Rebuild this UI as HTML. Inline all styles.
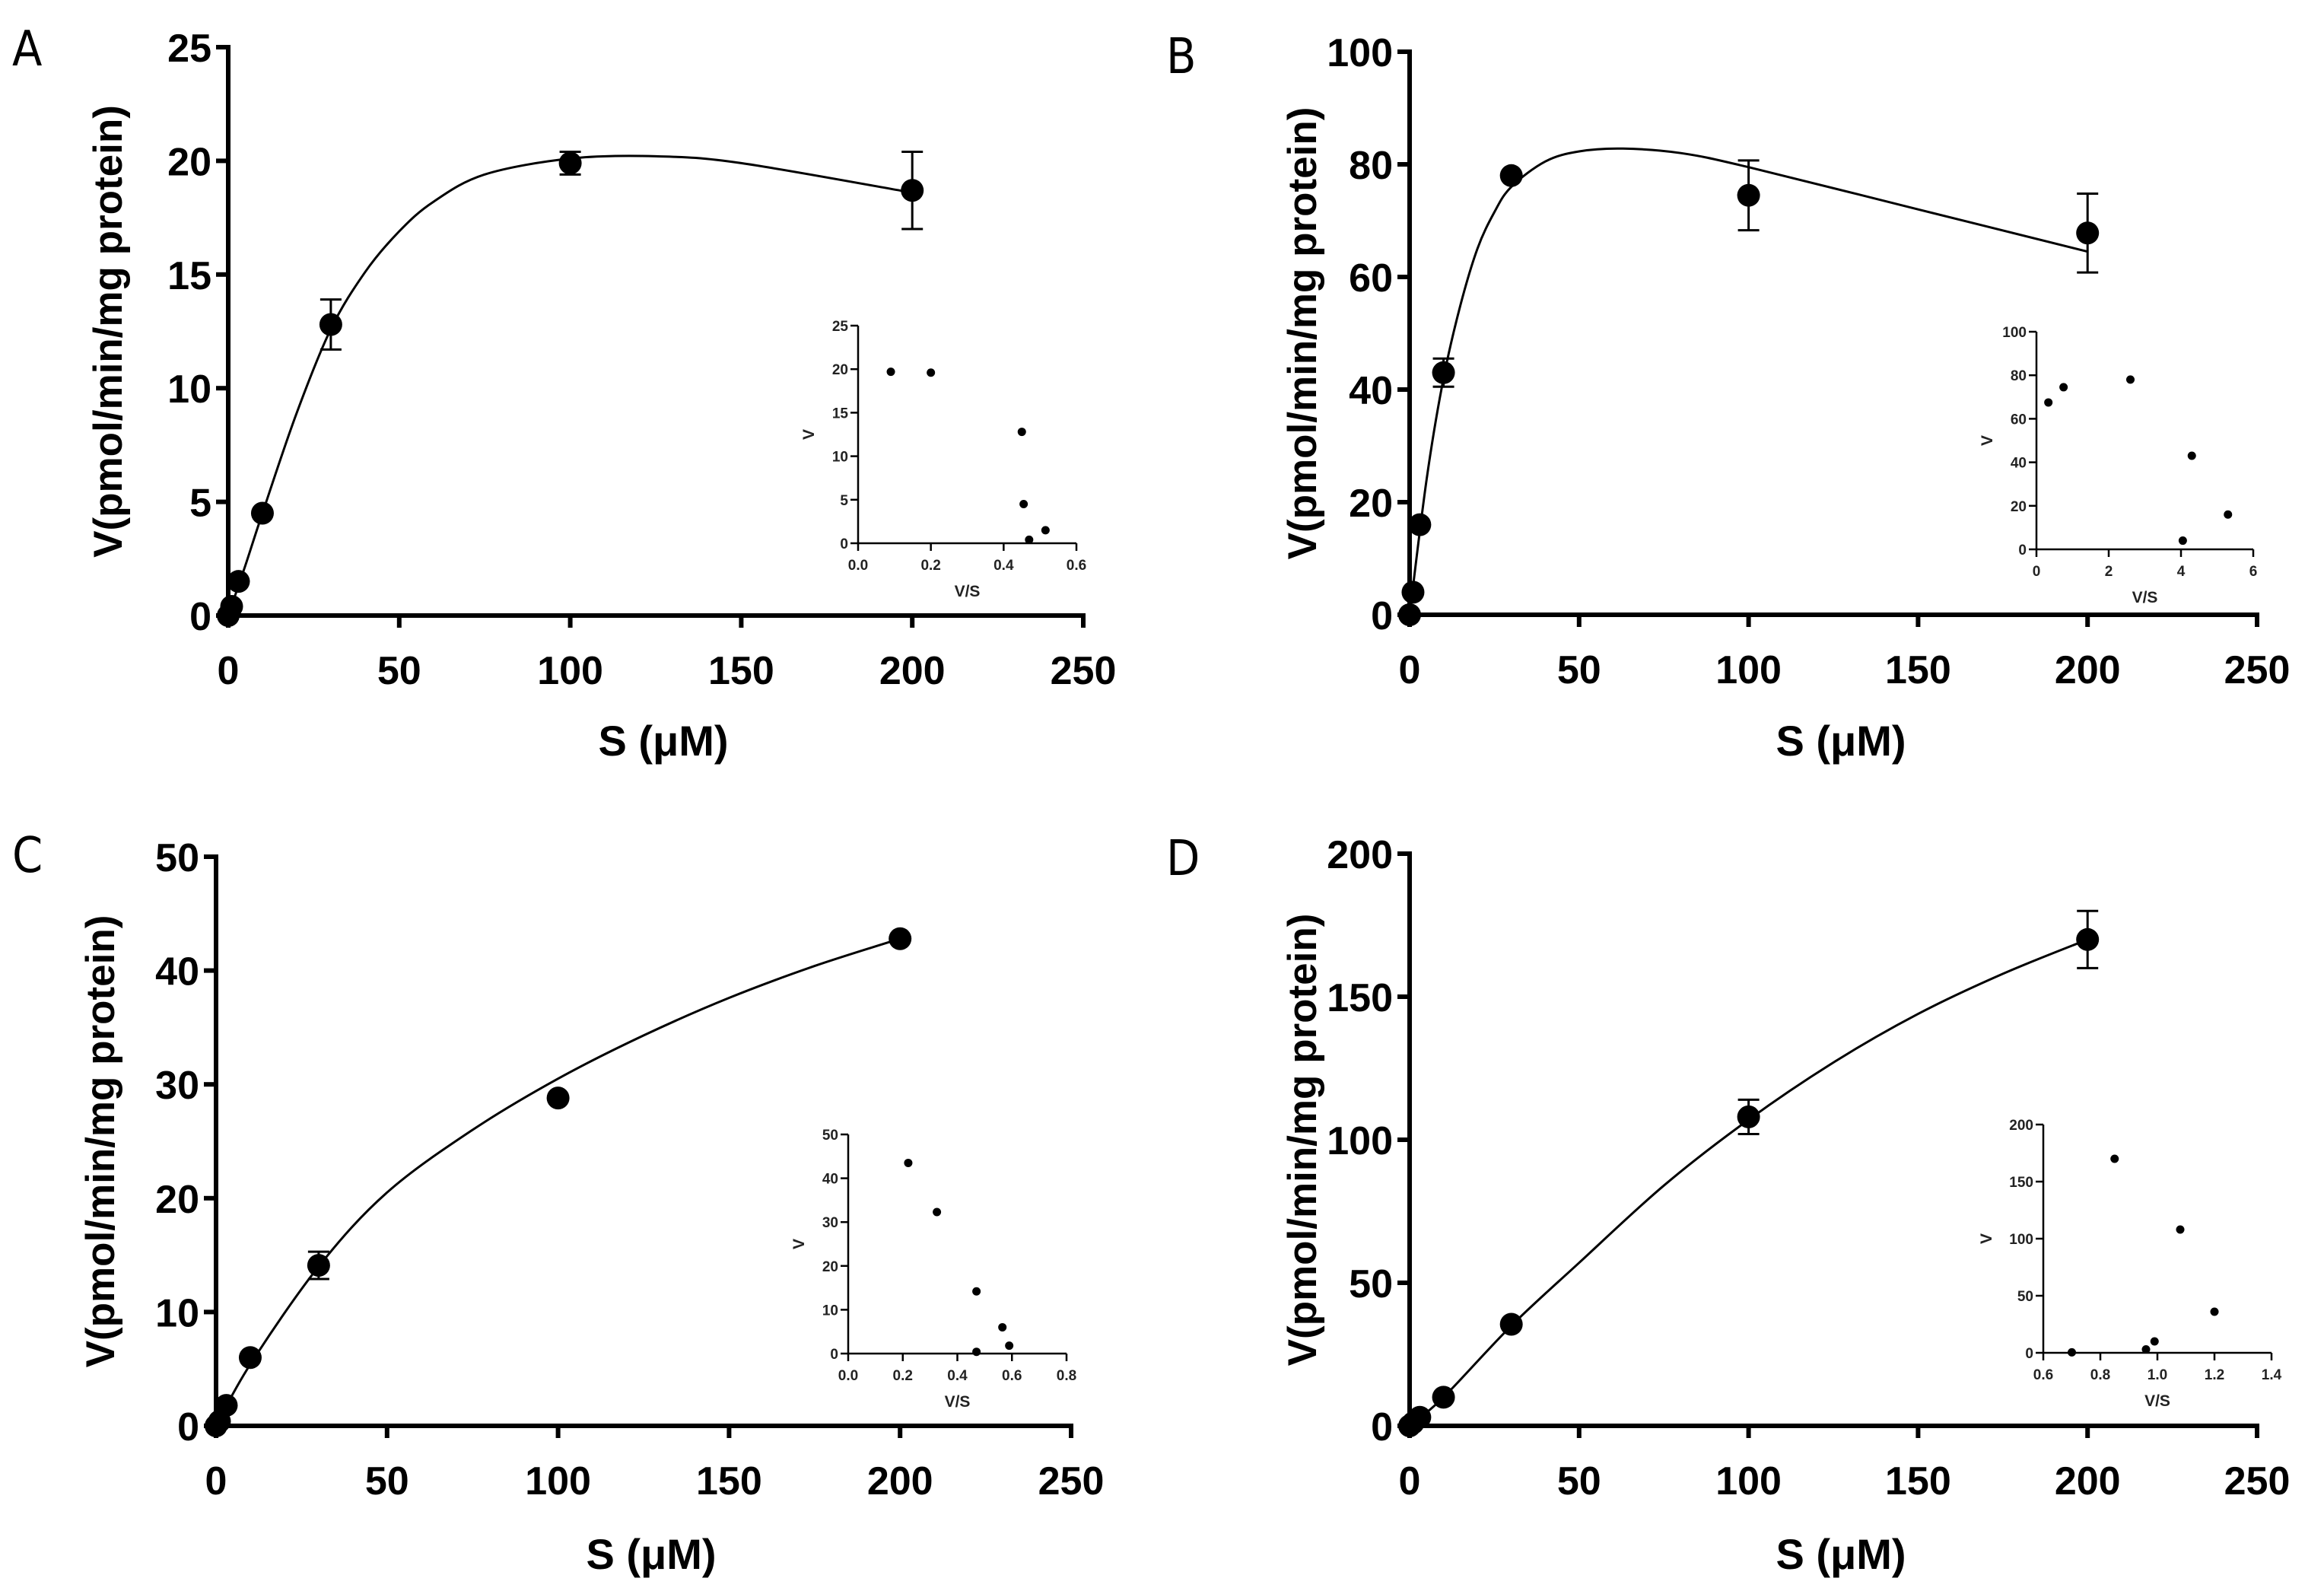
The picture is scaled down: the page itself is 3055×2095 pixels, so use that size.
<!DOCTYPE html>
<html><head><meta charset="utf-8"><style>
html,body{margin:0;padding:0;background:#fff;}
svg{display:block;font-family:"Liberation Sans",Arial,sans-serif;}
</style></head><body>
<svg id="fig" width="3055" height="2095" viewBox="0 0 3055 2095" xmlns="http://www.w3.org/2000/svg"></svg>
<script>
// Panel A data
const sA = [0, 1, 3, 10, 30, 100, 200];
const vA = [0, 0.4, 1.5, 4.5, 12.8, 19.9, 18.7];
const eA = [0, 0, 0, 0, 1.1, 0.5, 1.7];
const fitSA = [0, 5, 10, 20, 30, 40, 50, 60, 75, 100, 125, 150, 200];
const fitVA = [0, 2.2, 4.5, 8.9, 12.6, 15.1, 16.9, 18.2, 19.4, 20.1, 20.2, 19.9, 18.6];
const insXA = [0.09, 0.2, 0.45, 0.455, 0.515, 0.47];
const insYA = [19.7, 19.6, 12.8, 4.5, 1.5, 0.4];
// Panel B data
const sB = [0, 1, 3, 10, 30, 100, 200];
const vB = [0, 4, 16, 43, 78, 74.5, 67.8];
const eB = [0, 0, 0, 2.5, 0, 6.2, 7];
const fitSB = [0, 5, 10, 15, 20, 25, 30, 40, 50, 63, 80, 100, 150, 200];
const fitVB = [0, 24, 42, 55, 65, 71.5, 76, 80.5, 82.3, 82.8, 82, 79.5, 72, 64.5];
const insXB = [0.33, 0.75, 2.6, 4.3, 4.05, 5.3];
const insYB = [67.5, 74.5, 78, 43, 4, 16];
// Panel C data
const sC = [0, 1, 3, 10, 30, 100, 200];
const vC = [0, 0.4, 1.8, 6, 14.1, 28.8, 42.8];
const eC = [0, 0, 0, 0, 1.2, 0, 0];
const fitSC = [0, 10, 30, 50, 75, 100, 125, 150, 175, 200];
const fitVC = [0, 5.4, 14, 20.5, 26, 30.5, 34.3, 37.6, 40.4, 42.8];
const insXC = [0.22, 0.325, 0.47, 0.565, 0.59, 0.47];
const insYC = [43.5, 32.3, 14.2, 6, 1.8, 0.4];
// Panel D data
const sD = [0, 1, 3, 10, 30, 100, 200];
const vD = [0, 1, 3, 10, 35.5, 108, 170];
const eD = [0, 0, 0, 0, 0, 6, 10];
const fitSD = [0, 10, 30, 50, 75, 100, 125, 150, 175, 200];
const fitVD = [0, 10, 35, 57, 84, 107, 127, 144, 158, 170];
const insXD = [0.7, 0.85, 0.96, 0.99, 1.08, 1.2];
const insYD = [0.4, 170, 3, 10, 108, 36];
// tick labels
const xTicksMain = [0, 50, 100, 150, 200, 250];
const yTicksA = [0, 5, 10, 15, 20, 25];
const yTicksB = [0, 20, 40, 60, 80, 100];
const yTicksC = [0, 10, 20, 30, 40, 50];
const yTicksD = [0, 50, 100, 150, 200];
const insXTA = [0, 0.2, 0.4, 0.6];
const insXTB = [0, 2, 4, 6];
const insXTC = [0, 0.2, 0.4, 0.6, 0.8];
const insXTD = [0.6, 0.8, 1.0, 1.2, 1.4];

const NS = "http://www.w3.org/2000/svg";
const svg = document.getElementById('fig');
function mk(tag, attrs, parent, txt){
  const e = document.createElementNS(NS, tag);
  for (const k in attrs) e.setAttribute(k, attrs[k]);
  if (txt !== undefined) e.textContent = txt;
  (parent || svg).appendChild(e);
  return e;
}
function fmt(v, dec){ return dec ? v.toFixed(dec) : String(v); }

function panel(cfg){
  const g = mk('g', {});
  
  
  const X = v => cfg.x0 + (v - 0) / 250 * (cfg.x1 - cfg.x0);
  const Y = v => cfg.y0 - v / cfg.ymax * (cfg.y0 - cfg.y1);
  const L = mk('text', {x: cfg.lx, y: cfg.ly, 'font-size': 64, fill: '#000', 'font-family': '"DejaVu Sans Condensed","Liberation Sans",sans-serif'}, g, cfg.id);
  
  
  const ax = mk('g', {stroke: '#000', 'stroke-width': 6, fill: 'none'}, g);
  
  
  mk('line', {x1: cfg.x0, y1: cfg.y0 + 3, x2: cfg.x0, y2: Y(cfg.ymax) - 3}, ax);
  mk('line', {x1: cfg.x0 - 3, y1: cfg.y0, x2: X(250) + 3, y2: cfg.y0}, ax);
  cfg.yt.forEach(t => {
    mk('line', {x1: cfg.x0 - 16, y1: Y(t), x2: cfg.x0, y2: Y(t)}, ax);
    const tx = mk('text', {x: cfg.x0 - 22, y: Y(t) + 19, 'font-size': 52, 'font-weight': 'bold', 'text-anchor': 'end', fill: '#000', stroke: 'none'}, g, fmt(t));
    
    
  });
  xTicksMain.forEach(t => {
    mk('line', {x1: X(t), y1: cfg.y0, x2: X(t), y2: cfg.y0 + 16}, ax);
    const tx = mk('text', {x: X(t), y: cfg.y0 + 90, 'font-size': 52, 'font-weight': 'bold', 'text-anchor': 'middle', fill: '#000'}, g, fmt(t));
    
    
  });
  const yt = mk('text', {x: 0, y: 0, 'font-size': 53, 'font-weight': 'bold', 'text-anchor': 'middle', fill: '#000', transform: 'translate(' + cfg.ytx + ',' + ((cfg.y0 + Y(cfg.ymax)) / 2) + ') rotate(-90)'}, g, 'V(pmol/min/mg protein)');
  
  
  const xt = mk('text', {x: (cfg.x0 + X(250)) / 2 + 10, y: cfg.xty, 'font-size': 56, 'font-weight': 'bold', 'text-anchor': 'middle', fill: '#000'}, g, 'S (μM)');
  
  
  const pts = cfg.fs.map((s, i) => [X(s), Y(cfg.fv[i])]);
  let d = 'M' + pts[0][0] + ',' + pts[0][1];
  for (let i = 0; i < pts.length - 1; i++){
    const p0 = pts[Math.max(0, i - 1)], p1 = pts[i], p2 = pts[i + 1], p3 = pts[Math.min(pts.length - 1, i + 2)];
    const c1 = [p1[0] + (p2[0] - p0[0]) / 6, p1[1] + (p2[1] - p0[1]) / 6];
    const c2 = [p2[0] - (p3[0] - p1[0]) / 6, p2[1] - (p3[1] - p1[1]) / 6];
    d += ' C' + c1[0].toFixed(1) + ',' + c1[1].toFixed(1) + ' ' + c2[0].toFixed(1) + ',' + c2[1].toFixed(1) + ' ' + p2[0].toFixed(1) + ',' + p2[1].toFixed(1);
  }
  const fit = mk('path', {d: d, fill: 'none', stroke: '#000', 'stroke-width': 3}, g);
  
  
  cfg.s.forEach((s, i) => {
    if (cfg.e[i] > 0){
      const eb = mk('g', {stroke: '#000', 'stroke-width': 3}, g);
      
      
      const yh = Y(cfg.v[i] + cfg.e[i]), yl = Y(cfg.v[i] - cfg.e[i]);
      mk('line', {x1: X(s), y1: yh, x2: X(s), y2: yl}, eb);
      mk('line', {x1: X(s) - 14, y1: yh, x2: X(s) + 14, y2: yh}, eb);
      mk('line', {x1: X(s) - 14, y1: yl, x2: X(s) + 14, y2: yl}, eb);
    }
    const c = mk('circle', {cx: X(s), cy: Y(cfg.v[i]), r: 15, fill: '#000'}, g);
    
    
  });
  const ig = mk('g', {}, g);
  
  
  const I = cfg.ins;
  const IX = v => I.x0 + (v - I.xmin) / (I.xmax - I.xmin) * (I.x1 - I.x0);
  const IY = v => I.y0 - v / I.ymax * (I.y0 - I.y1);
  const iax = mk('g', {stroke: '#000', 'stroke-width': 2.5}, ig);
  mk('line', {x1: I.x0, y1: I.y0 + 1, x2: I.x0, y2: I.y1}, iax);
  mk('line', {x1: I.x0, y1: I.y0, x2: I.x1, y2: I.y0}, iax);
  I.yt.forEach(t => {
    mk('line', {x1: I.x0 - 10, y1: IY(t), x2: I.x0, y2: IY(t)}, iax);
    const tx = mk('text', {x: I.x0 - 13, y: IY(t) + 7, 'font-size': 19, 'font-weight': 'bold', 'text-anchor': 'end', fill: '#222'}, ig, fmt(t));
    
    
  });
  I.xt.forEach(t => {
    mk('line', {x1: IX(t), y1: I.y0, x2: IX(t), y2: I.y0 + 10}, iax);
    const tx = mk('text', {x: IX(t), y: I.y0 + 35, 'font-size': 19, 'font-weight': 'bold', 'text-anchor': 'middle', fill: '#222'}, ig, fmt(t, I.dec));
    
    
  });
  const iy = mk('text', {x: 0, y: 0, 'font-size': 21, 'font-weight': 'bold', 'text-anchor': 'middle', fill: '#222', transform: 'translate(' + (I.x0 - I.ytoff) + ',' + ((I.y0 + I.y1) / 2) + ') rotate(-90)'}, ig, 'V');
  
  
  const ix = mk('text', {x: (I.x0 + I.x1) / 2, y: I.y0 + 70, 'font-size': 21, 'font-weight': 'bold', 'text-anchor': 'middle', fill: '#222'}, ig, 'V/S');
  
  
  I.px.forEach((v, i) => {
    const c = mk('circle', {cx: IX(v), cy: IY(I.py[i]), r: 5.5, fill: '#000'}, ig);
    
    
  });
}

panel({id: 'A', x0: 300, x1: 1424, y0: 809, y1: 62, ymax: 25, yt: yTicksA, s: sA, v: vA, e: eA, fs: fitSA, fv: fitVA,
  lx: 16, ly: 86, ytx: 160, xty: 993,
  ins: {x0: 1128, x1: 1415, xmin: 0, xmax: 0.6, y0: 714, y1: 428, ymax: 25, xt: insXTA, yt: yTicksA, dec: 1, px: insXA, py: insYA, ytoff: 58}});
panel({id: 'B', x0: 1853, x1: 2967, y0: 808, y1: 68, ymax: 100, yt: yTicksB, s: sB, v: vB, e: eB, fs: fitSB, fv: fitVB,
  lx: 1533, ly: 96, ytx: 1730, xty: 993,
  ins: {x0: 2677, x1: 2962, xmin: 0, xmax: 6, y0: 722, y1: 436, ymax: 100, xt: insXTB, yt: yTicksB, dec: 0, px: insXB, py: insYB, ytoff: 58}});
panel({id: 'C', x0: 284, x1: 1408, y0: 1874, y1: 1126, ymax: 50, yt: yTicksC, s: sC, v: vC, e: eC, fs: fitSC, fv: fitVC,
  lx: 16, ly: 1146, ytx: 150, xty: 2062,
  ins: {x0: 1115, x1: 1402, xmin: 0, xmax: 0.8, y0: 1779, y1: 1491, ymax: 50, xt: insXTC, yt: yTicksC, dec: 1, px: insXC, py: insYC, ytoff: 58}});
panel({id: 'D', x0: 1853, x1: 2967, y0: 1874, y1: 1122, ymax: 200, yt: yTicksD, s: sD, v: vD, e: eD, fs: fitSD, fv: fitVD,
  lx: 1533, ly: 1150, ytx: 1730, xty: 2062,
  ins: {x0: 2686, x1: 2986, xmin: 0.6, xmax: 1.4, y0: 1778, y1: 1478, ymax: 200, xt: insXTD, yt: yTicksD, dec: 1, px: insXD, py: insYD, ytoff: 68}});
</script>
</body></html>
